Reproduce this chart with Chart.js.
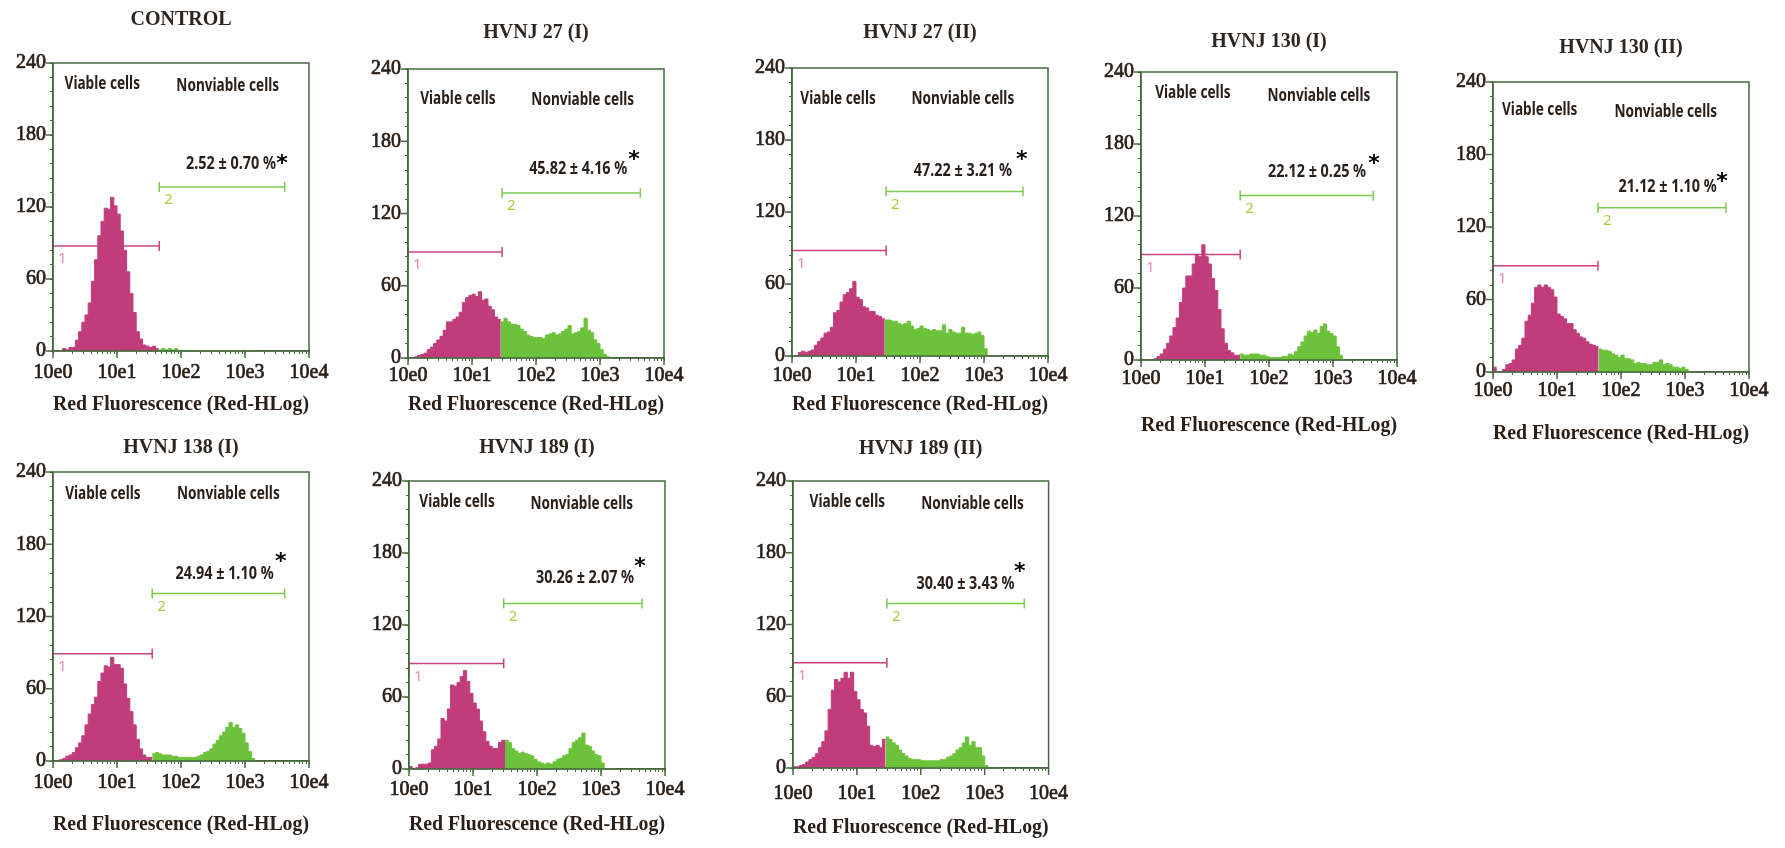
<!DOCTYPE html>
<html>
<head>
<meta charset="utf-8">
<script src="https://cdn.jsdelivr.net/npm/chart.js@4.4.1/dist/chart.umd.min.js"></script>
<style>
  html, body { margin: 0; background: #fff; }
  #fig { position: relative; width: 1785px; height: 848px; overflow: hidden; }
  #fig canvas { position: absolute; }
</style>
</head>
<body>
<div id="fig"></div>
<script>
// Histogram channels are BIN wide on the log10 fluorescence axis (0 = 10e0 ... 4 = 10e4)
const BIN = 0.05;

const TITLES = ['CONTROL', 'HVNJ 27 (I)', 'HVNJ 27 (II)', 'HVNJ 130 (I)', 'HVNJ 130 (II)',
  'HVNJ 138 (I)', 'HVNJ 189 (I)', 'HVNJ 189 (II)'];
const PCT_LABELS = ['2.52 ± 0.70 %', '45.82 ± 4.16 %', '47.22 ± 3.21 %', '22.12 ± 0.25 %',
  '21.12 ± 1.10 %', '24.94 ± 1.10 %', '30.26 ± 2.07 %', '30.40 ± 3.43 %'];
const REGION_LABELS = ['Viable cells', 'Nonviable cells'];
const X_TICK_LABELS = ['10e0', '10e1', '10e2', '10e3', '10e4'];
const Y_TICKS = [0, 60, 120, 180, 240];
const X_TITLE = 'Red Fluorescence (Red-HLog)';

// gate markers: 1 = [0, split], 2 = [split, end]; heights in counts
const GATE_SPLIT = [1.66, 1.47, 1.47, 1.55, 1.64, 1.55, 1.48, 1.47];
const GATE_END = [3.62, 3.63, 3.61, 3.63, 3.64, 3.62, 3.64, 3.62];
const GATE1_Y = [87.5, 88, 88, 88, 88, 89, 88, 88];
const GATE2_Y = [136.7, 137, 137, 137, 136, 139, 138, 137.5];

// counts per channel
const COUNTS_CONTROL = [0,0,0,2,1,3,3,9,16,24, 30,40,58,76,96,108,119,118,128,121,
  114,100,84,66,48,32,16,10,5,4, 3,4,2,1,2,1,2,1,2,0, 0,0,0,0,0,0,0,0,0,0,
  0,0,0,0,0,0,0,0,0,0, 0,0,0,0];
const COUNTS_27_I = [0,0,1,2,3,4,7,9,12,15, 18,23,30,30,32,34,38,46,50,52,
  53,51,55,48,49,43,40,34,32,30, 33,30,28,28,27,24,22,19,18,17, 17,17,16,19,20,21,19,20,22,24,
  27,20,21,22,25,33,23,21,15,12, 7,3,1,0];
const COUNTS_27_II = [0,0,3,4,3,4,5,9,12,15, 19,20,24,36,38,45,51,53,56,62,
  49,47,41,40,37,37,34,33,31,30, 30,29,29,27,26,27,29,25,22,23, 25,23,22,21,22,21,21,26,19,22,
  20,19,19,24,19,19,18,19,20,17, 6,0,0,0];
const COUNTS_130_I = [0,0,0,0,1,3,5,9,14,20, 27,35,48,60,70,70,80,88,86,96,
  86,80,68,58,42,26,14,8,6,4, 4,5,4,4,5,5,5,4,4,3, 2,2,2,2,3,3,5,4,7,11,
  15,20,24,23,25,22,28,30,24,22, 20,11,4,0];
const COUNTS_130_II = [4,0,0,2,6,7,10,19,22,28, 42,47,57,70,72,70,72,70,68,62,
  48,46,44,40,40,35,32,29,28,25, 23,22,21,19,18,18,17,15,14,12, 14,11,11,10,7,8,7,7,6,6,
  8,8,10,6,7,6,4,4,3,4, 2,0,0,0];
const COUNTS_138_I = [0,0,1,2,4,5,7,11,15,21, 30,39,47,53,66,73,79,78,86,80,
  80,77,64,52,41,30,18,10,5,3, 3,6,7,6,5,5,5,4,4,3, 3,3,3,3,3,4,5,7,8,10,
  14,17,21,24,28,32,28,30,27,23, 15,8,2,0];
const COUNTS_189_I = [2,0,1,4,4,4,5,16,19,25, 42,40,50,70,69,72,77,82,73,63,
  55,50,40,31,23,19,17,17,22,24, 24,22,17,15,13,14,13,12,11,8, 6,5,4,5,4,6,8,9,11,12,
  17,22,24,26,30,20,19,15,12,11, 5,0,0,0];
const COUNTS_189_II = [1,1,2,3,5,7,9,12,17,22, 31,49,65,74,72,75,80,75,80,64,
  57,49,46,35,19,18,19,17,24,26, 24,21,19,15,12,10,8,7,7,7, 6,6,6,6,6,6,7,7,9,10,
  12,15,17,21,26,19,22,17,17,10, 2,0,0,0];
const COUNTS = [COUNTS_CONTROL, COUNTS_27_I, COUNTS_27_II, COUNTS_130_I, COUNTS_130_II,
  COUNTS_138_I, COUNTS_189_I, COUNTS_189_II];

// layout: plot-area left/top/height, title pad, tick pad, x-title pad
const PANEL_BOX = [
  [53, 63, 288, 5, 7, 14],
  [408, 69, 289, 12, 3, 21],
  [792, 68, 288, 13, 5, 19],
  [1141, 72, 288, 18, 4, 2],
  [1493, 82, 290, 14, 4, 6],
  [53, 472, 289, 24, 7, 4],
  [409, 481, 288, 15, 6, 12],
  [793, 481, 287, 16, 11, 8],
];
// caption anchors in data units: viable, nonviable, percentage, asterisk
const NOTE_POS = [
  [0.77, 222, 2.73, 221, 2.78, 156, 3.58, 160],
  [0.78, 215, 2.73, 214, 2.66, 157, 3.53, 168],
  [0.72, 214, 2.67, 214, 2.67, 154, 3.59, 167],
  [0.81, 222, 2.78, 220, 2.75, 157, 3.64, 167],
  [0.73, 217, 2.70, 215, 2.73, 153, 3.58, 161],
  [0.78, 222, 2.74, 222, 2.68, 155, 3.56, 169],
  [0.75, 222, 2.70, 221, 2.75, 159, 3.61, 172],
  [0.85, 222, 2.81, 221, 2.70, 154, 3.55, 168],
];

const PLOT_W = 256;
const AXIS_W = 50;
const TOP_H = 60;
const BOTTOM_H = 80;
const RIGHT_PAD = 30;

const FRAME = '#46693f';
const INK = '#2b2019';
const MAGENTA = '#c13c7b';
const GREEN = '#6cc33b';
const GATE1_COLOR = '#c8437f';
const GATE2_COLOR = '#7cc94f';
const SERIF = "'Liberation Serif', 'Times New Roman', serif";
const SANS = "'Noto Sans', 'Open Sans', sans-serif";

// log axis ticks: 1..9 in every decade
const X_TICK_VALUES = [];
for (let d = 0; d < 4; d += 1) {
  for (let k = 1; k < 10; k += 1) X_TICK_VALUES.push(d + Math.log10(k));
}
X_TICK_VALUES.push(4);

function histPoints(counts, from, to) {
  const pts = [];
  for (let i = from; i < to; i += 1) pts.push({ x: i * BIN, y: counts[i] });
  pts.push({ x: to * BIN, y: counts[to - 1] });
  return pts;
}

function squeezedText(ctx, text, px, py, font, color, sx) {
  ctx.save();
  ctx.font = font;
  ctx.fillStyle = color;
  ctx.textAlign = 'center';
  ctx.textBaseline = 'middle';
  ctx.translate(px, py);
  ctx.scale(sx, 1);
  ctx.fillText(text, 0, 0);
  ctx.restore();
}

const cytoDecor = {
  id: 'cytoDecor',
  afterDraw(chart, _args, opts) {
    const { ctx, chartArea: a, scales: { x, y } } = chart;
    const i = opts.panel;
    const n = NOTE_POS[i];
    ctx.save();
    ctx.strokeStyle = FRAME;
    ctx.lineWidth = 1.5;
    ctx.strokeRect(a.left, a.top, a.right - a.left, a.bottom - a.top);
    // longer marks at the labelled ticks
    ctx.beginPath();
    X_TICK_LABELS.forEach((_, v) => {
      const px = x.getPixelForValue(v);
      ctx.moveTo(px, a.bottom);
      ctx.lineTo(px, a.bottom + 7);
    });
    Y_TICKS.forEach((v) => {
      const py = y.getPixelForValue(v);
      ctx.moveTo(a.left - 7, py);
      ctx.lineTo(a.left, py);
    });
    ctx.stroke();

    const capFont = `bold 17px ${SANS}`;
    squeezedText(ctx, REGION_LABELS[0], x.getPixelForValue(n[0]), y.getPixelForValue(n[1]), capFont, INK, 0.8);
    squeezedText(ctx, REGION_LABELS[1], x.getPixelForValue(n[2]), y.getPixelForValue(n[3]), capFont, INK, 0.8);
    squeezedText(ctx, PCT_LABELS[i], x.getPixelForValue(n[4]), y.getPixelForValue(n[5]), `bold 18px ${SANS}`, INK, 0.8);
    squeezedText(ctx, '*', x.getPixelForValue(n[6]), y.getPixelForValue(n[7]) + 5, "bold 22px 'DejaVu Sans'", '#000', 1);

    // gate numbers
    ctx.font = `15px ${SANS}`;
    ctx.textAlign = 'left';
    ctx.textBaseline = 'middle';
    ctx.fillStyle = '#e58ab4';
    ctx.fillText('1', x.getPixelForValue(0) + 5, y.getPixelForValue(GATE1_Y[i]) + 13);
    ctx.fillStyle = '#a6cf3c';
    ctx.fillText('2', x.getPixelForValue(GATE_SPLIT[i]) + 5, y.getPixelForValue(GATE2_Y[i]) + 13);
    ctx.restore();
  },
};

function gateDataset(x0, x1, gy, color) {
  return {
    data: [{ x: x0, y: gy }, { x: x1, y: gy }],
    borderColor: color,
    borderWidth: 1.5,
    pointStyle: 'line',
    pointRotation: 90,
    pointRadius: 5,
    pointBorderColor: color,
    pointBorderWidth: 1.5,
    fill: false,
  };
}

function makePanel(i) {
  const [left, top, plotH, titlePad, tickPad, xTitlePad] = PANEL_BOX[i];
  const canvas = document.createElement('canvas');
  const w = AXIS_W + PLOT_W + RIGHT_PAD;
  const h = TOP_H + plotH + BOTTOM_H;
  canvas.width = w;
  canvas.height = h;
  canvas.style.left = `${left - AXIS_W}px`;
  canvas.style.top = `${top - TOP_H}px`;
  canvas.style.width = `${w}px`;
  canvas.style.height = `${h}px`;
  document.getElementById('fig').appendChild(canvas);

  const counts = COUNTS[i];
  const split = Math.round(GATE_SPLIT[i] / BIN);
  const histStyle = (color) => ({
    borderColor: color,
    backgroundColor: color,
    borderWidth: 1,
    pointRadius: 0,
    stepped: true,
    fill: 'origin',
  });

  return new Chart(canvas, {
    type: 'line',
    data: {
      datasets: [
        { data: histPoints(counts, 0, split), ...histStyle(MAGENTA) },
        { data: histPoints(counts, split, counts.length), ...histStyle(GREEN) },
        gateDataset(0, GATE_SPLIT[i], GATE1_Y[i], GATE1_COLOR),
        gateDataset(GATE_SPLIT[i], GATE_END[i], GATE2_Y[i], GATE2_COLOR),
      ],
    },
    options: {
      responsive: false,
      animation: false,
      events: [],
      layout: { padding: { left: 0, right: RIGHT_PAD, top: 0, bottom: 0 } },
      scales: {
        x: {
          type: 'linear',
          min: 0,
          max: 4,
          afterBuildTicks(scale) {
            scale.ticks = X_TICK_VALUES.map((value) => ({ value }));
          },
          afterFit(scale) {
            scale.height = BOTTOM_H;
          },
          ticks: {
            autoSkip: false,
            maxRotation: 0,
            padding: tickPad,
            color: INK,
            textStrokeColor: INK,
            textStrokeWidth: 0.7,
            font: { family: SERIF, size: 20 },
            callback: (v) => (Number.isInteger(v) ? X_TICK_LABELS[v] : ''),
          },
          grid: { drawOnChartArea: false, tickLength: 3, color: FRAME },
          border: { color: FRAME, width: 1.5 },
          title: {
            display: true,
            text: X_TITLE,
            color: INK,
            font: { family: SERIF, size: 20, weight: 'bold' },
            padding: { top: 0, bottom: xTitlePad },
          },
        },
        y: {
          min: 0,
          max: 240,
          afterFit(scale) {
            scale.width = AXIS_W;
          },
          ticks: {
            stepSize: 12,
            autoSkip: false,
            padding: 4,
            color: INK,
            textStrokeColor: INK,
            textStrokeWidth: 0.7,
            font: { family: SERIF, size: 20 },
            callback: (v) => (Y_TICKS.includes(v) ? String(v) : ''),
          },
          grid: { drawOnChartArea: false, tickLength: 3, color: FRAME },
          border: { color: FRAME, width: 1.5 },
        },
      },
      plugins: {
        legend: { display: false },
        tooltip: { enabled: false },
        title: {
          display: true,
          text: TITLES[i],
          fullSize: false,
          color: '#2d2620',
          font: { family: SERIF, size: 20, weight: 'bold' },
          padding: { top: titlePad, bottom: TOP_H - 24 - titlePad },
        },
        cytoDecor: { panel: i },
      },
    },
    plugins: [cytoDecor],
  });
}

TITLES.forEach((_, i) => makePanel(i));
</script>
</body>
</html>
